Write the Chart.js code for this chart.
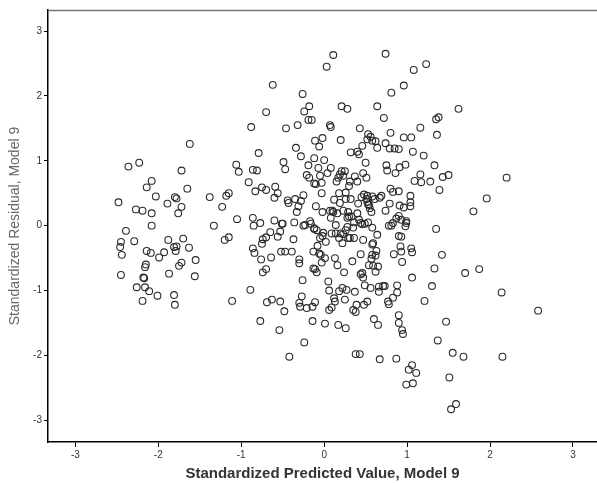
<!DOCTYPE html>
<html>
<head>
<meta charset="utf-8">
<script src="https://cdn.jsdelivr.net/npm/chart.js@4.4.1/dist/chart.umd.min.js"></script>
<style>
  html, body { margin: 0; padding: 0; background: #fff; overflow: hidden; }
  #wrap { position: relative; width: 597px; height: 483px; }
  #wrap canvas { display: block; }
</style>
</head>
<body>
<div id="wrap"><canvas id="residChart"></canvas></div>
<script>
// residuals vs predicted
const predicted = [
  -2.48, -2.36, -2.23, -2.27, -2.19, -2.14, -2.08, -2.08, -2.08, -2.03,
  -2.39, -2.45, -2.46, -2.44, -2.45, -2.29, -2.26, -2.19, -2.18, -2.17,
  -2.16, -2.15, -2.14, -2.16, -2.11, -2.09, -2.01, -1.99, -1.93, -1.89,
  -1.88, -1.87, -1.80, -1.78, -1.76, -1.72, -1.72, -1.81, -1.79, -1.78,
  -1.75, -1.72, -1.70, -1.81, -1.80, -1.65, -1.63, -1.62, -1.55, -1.56,
  -1.38, -1.33, -1.23, -1.20, -1.15, -1.18, -1.15, -1.11, -1.06, -1.03,
  -1.05, -0.91, -0.89, -0.88, -0.86, -0.86, -0.85, -0.86, -0.84, -0.83,
  -0.81, -0.79, -0.77, -0.77, -0.76, -0.75, -0.75, -0.74, -0.74, -0.70,
  -0.70, -0.70, -0.70, -0.69, -0.65, -0.64, -0.63, -0.62, -0.60, -0.60,
  -0.59, -0.56, -0.56, -0.54, -0.53, -0.53, -0.52, -0.51, -0.50, -0.49,
  -0.48, -0.47, -0.47, -0.46, -0.44, -0.43, -0.42, -0.39, -0.37, -0.36,
  -0.35, -0.34, -0.33, -0.32, -0.31, -0.30, -0.30, -0.30, -0.29, -0.28,
  -0.28, -0.27, -0.26, -0.26, -0.25, -0.25, -0.24, -0.24, -0.23, -0.21,
  -0.21, -0.19, -0.19, -0.18, -0.18, -0.17, -0.16, -0.15, -0.14, -0.14,
  -0.13, -0.13, -0.12, -0.12, -0.12, -0.12, -0.11, -0.11, -0.11, -0.10,
  -0.10, -0.09, -0.09, -0.08, -0.07, -0.06, -0.06, -0.05, -0.05, -0.04,
  -0.03, -0.03, -0.03, -0.02, -0.02, -0.02, -0.01, 0.00, 0.01, 0.01,
  0.02, 0.03, 0.04, 0.05, 0.06, 0.06, 0.07, 0.07, 0.08, 0.08,
  0.09, 0.09, 0.10, 0.11, 0.11, 0.12, 0.12, 0.13, 0.13, 0.14,
  0.14, 0.15, 0.16, 0.16, 0.17, 0.17, 0.18, 0.18, 0.18, 0.19,
  0.19, 0.20, 0.20, 0.21, 0.21, 0.22, 0.22, 0.23, 0.23, 0.23,
  0.24, 0.25, 0.25, 0.26, 0.26, 0.26, 0.26, 0.27, 0.28, 0.28,
  0.28, 0.29, 0.29, 0.30, 0.30, 0.31, 0.31, 0.32, 0.32, 0.33,
  0.34, 0.35, 0.35, 0.36, 0.36, 0.37, 0.37, 0.38, 0.38, 0.39,
  0.40, 0.40, 0.40, 0.41, 0.42, 0.42, 0.43, 0.43, 0.44, 0.44,
  0.44, 0.45, 0.46, 0.46, 0.46, 0.47, 0.47, 0.47, 0.48, 0.48,
  0.49, 0.49, 0.50, 0.51, 0.51, 0.52, 0.52, 0.52, 0.53, 0.53,
  0.53, 0.52, 0.54, 0.54, 0.55, 0.56, 0.56, 0.57, 0.57, 0.58,
  0.58, 0.58, 0.58, 0.58, 0.59, 0.59, 0.60, 0.61, 0.62, 0.62,
  0.62, 0.63, 0.64, 0.64, 0.64, 0.65, 0.65, 0.66, 0.66, 0.67,
  0.67, 0.69, 0.71, 0.72, 0.73, 0.74, 0.74, 0.74, 0.75, 0.76,
  0.77, 0.78, 0.78, 0.79, 0.79, 0.80, 0.80, 0.81, 0.81, 0.83,
  0.83, 0.83, 0.84, 0.85, 0.86, 0.87, 0.87, 0.88, 0.88, 0.90,
  0.90, 0.90, 0.90, 0.90, 0.90, 0.91, 0.91, 0.92, 0.93, 0.93,
  0.93, 0.94, 0.94, 0.95, 0.96, 0.96, 0.96, 0.98, 0.98, 0.99,
  0.99, 0.99, 1.02, 1.04, 1.04, 1.04, 1.05, 1.05, 1.06, 1.06,
  1.07, 1.07, 1.06, 1.08, 1.09, 1.11, 1.16, 1.16, 1.17, 1.20,
  1.21, 1.23, 1.28, 1.30, 1.33, 1.33, 1.35, 1.35, 1.36, 1.38,
  1.37, 1.39, 1.42, 1.43, 1.47, 1.50, 1.51, 1.53, 1.55, 1.59,
  1.62, 1.68, 1.70, 1.80, 1.87, 1.96, 2.14, 2.15, 2.20, 2.58,
  0.08
];
const residual = [
  0.36, 0.91, 0.97, 0.25, 0.23, 0.59, 0.69, 0.19, 0.00, 0.45,
  -0.08, -0.25, -0.33, -0.45, -0.76, -0.24, -0.95, -1.16, -0.80, -0.81,
  -0.64, -0.60, -0.39, -0.95, -1.01, -0.42, -1.08, -0.49, -0.41, 0.34,
  -0.22, -0.74, 0.44, 0.42, 0.19, 0.29, 0.85, -0.33, -0.39, -0.32,
  -0.62, -0.57, -0.20, -1.07, -1.22, 0.57, -0.34, 1.26, -0.53, -0.78,
  0.44, 0.00, 0.29, -0.22, -0.18, 0.46, 0.50, -1.16, 0.94, 0.83,
  0.10, 0.67, -0.99, 1.52, 0.86, 0.12, 0.00, -0.35, -0.42, 0.53,
  0.85, 1.12, 0.04, -1.47, -0.52, -0.28, 0.59, -0.72, -0.21, 1.75,
  0.55, -0.18, -0.67, -1.18, -0.10, -0.49, -1.14, 2.17, 0.08, 0.43,
  0.60, 0.50, -0.17, -1.61, -0.09, -1.17, -0.40, 0.03, 0.03, 0.98,
  -1.32, -0.40, 0.87, 1.50, 0.39, 0.35, -2.02, -0.40, -0.21, 0.05,
  0.41, 1.20, 0.21, 1.55, 0.30, -0.52, -0.58, -1.19, -1.25, 0.38,
  1.07, -1.09, 2.03, -0.84, 0.47, 0.00, -1.80, 1.76, 0.01, -1.27,
  0.78, 1.63, 0.93, 1.84, 0.74, 0.07, 0.03, 1.63, -1.25, -1.47,
  -0.40, -0.66, -0.04, 1.04, 0.65, -0.05, 1.31, -0.67, -1.18, 0.64,
  0.30, -0.07, -0.72, -0.31, 0.89, -0.43, 1.22, 0.77, -0.19, -0.45,
  0.50, -0.57, 0.66, 1.35, -0.16, 0.21, -0.11, 1.01, -1.51, -0.50,
  -0.25, 2.45, 0.81, -0.86, -1.30, -1.00, 0.23, 1.55, 0.89, 0.12,
  -0.12, -1.26, 0.23, 2.63, 0.21, 0.40, -1.12, -1.17, -0.50, 0.01,
  -0.12, 0.68, 0.19, -0.61, -1.53, 0.74, 0.50, -1.01, -0.19, 0.35,
  0.79, 1.32, -0.12, 1.84, 0.84, -0.96, -0.27, 0.77, -0.13, 0.23,
  -0.72, -1.14, 0.84, 0.51, 0.41, -1.58, -0.07, -0.99, 1.80, -0.02,
  0.12, -0.19, 0.21, 0.61, 0.14, 0.68, -0.19, 0.41, 1.13, 0.14,
  -0.55, -0.03, -1.30, -0.19, 0.05, -1.02, 0.76, -1.33, -1.98, -1.22,
  0.19, 1.14, 0.68, 0.34, 0.09, 1.10, -1.98, 1.50, -0.44, -0.75,
  0.04, 0.44, -0.73, 0.02, 1.23, 0.81, -0.22, -0.80, 0.48, -1.22,
  0.03, -0.92, 0.97, 0.74, 0.41, -1.17, 1.33, 0.46, 1.41, 0.33,
  0.05, 0.37, -0.61, 0.32, 0.27, -0.96, 1.37, 0.21, -0.51, -0.29,
  -0.03, 1.31, 0.45, -0.45, -0.27, -0.62, -1.44, 0.41, -0.71, -0.46,
  1.30, -0.39, 1.20, 1.84, -0.14, -0.63, -1.53, -1.02, -0.94, -2.06,
  0.43, 0.46, -0.93, 1.66, -0.93, 2.65, 0.23, 1.27, 0.93, 0.85,
  -1.17, -1.21, 0.00, 1.19, 0.34, 0.57, 1.43, 0.00, 2.05, 0.52,
  0.04, -1.11, -0.44, 1.19, 0.81, -2.05, 0.11, -1.03, -0.92, 1.18,
  0.53, 0.15, -0.16, -1.38, -1.50, 0.90, 0.31, -0.32, -0.40, -0.17,
  0.09, -0.56, -1.61, -1.67, 2.16, 1.36, 0.28, 0.94, -0.01, -2.45,
  0.07, 0.04, -2.22, 0.46, 0.36, 0.30, 1.36, -0.35, -0.41, -2.15,
  -2.43, 1.14, -0.80, 2.40, 0.69, -2.27, 1.51, 0.79, 0.67, 1.08,
  -1.16, 2.49, 0.68, -0.93, 0.93, -0.66, 1.64, -0.05, 1.40, 1.67,
  -1.77, 0.55, -0.45, 0.75, -1.48, 0.78, -2.34, -2.83, -1.96, -2.75,
  1.80, -2.02, -0.73, 0.22, -0.67, 0.42, -1.03, -2.02, 0.74, -1.31,
  1.52
];
const xTicks = [-3, -2, -1, 0, 1, 2, 3];
const yTicks = [-3, -2, -1, 0, 1, 2, 3];

const points = predicted.map((x, i) => ({ x: x, y: residual[i] }));

// gray line along the top of the plot frame
const topFrame = {
  id: 'topFrame',
  afterDraw(chart) {
    const a = chart.chartArea, c = chart.ctx;
    c.save();
    c.strokeStyle = '#777';
    c.lineWidth = 1.5;
    c.beginPath();
    c.moveTo(a.left, a.top + 0.5);
    c.lineTo(a.right, a.top + 0.5);
    c.stroke();
    c.restore();
  }
};

const tickFont = { family: 'Arial, "Liberation Sans", sans-serif', size: 10 };

new Chart(document.getElementById('residChart'), {
  type: 'scatter',
  data: {
    datasets: [{
      data: points,
      pointStyle: 'circle',
      pointRadius: 3.4,
      pointBorderWidth: 1.1,
      pointBorderColor: '#2a2a2a',
      pointBackgroundColor: 'rgba(0,0,0,0)'
    }]
  },
  options: {
    responsive: true,
    maintainAspectRatio: false,
    animation: false,
    layout: { autoPadding: false, padding: { top: 10, right: 0, left: 0, bottom: 0 } },
    plugins: { legend: { display: false }, tooltip: { enabled: false } },
    scales: {
      x: {
        type: 'linear',
        min: -3.33,
        max: 3.29,
        afterBuildTicks: s => { s.ticks = xTicks.map(v => ({ value: v })); },
        afterFit: s => { s.height = 41; s.paddingLeft = 0; s.paddingRight = 0; },
        grid: { drawOnChartArea: false, drawTicks: true, tickLength: 5, color: '#000', lineWidth: 1 },
        border: { display: true, color: '#000', width: 1.5 },
        ticks: { color: '#333', font: tickFont, padding: 2, maxRotation: 0 },
        title: {
          display: true,
          text: 'Standardized Predicted Value, Model 9',
          color: '#333',
          font: { family: 'Arial, "Liberation Sans", sans-serif', size: 15, weight: 'bold' },
          padding: { top: 5, bottom: 0 }
        }
      },
      y: {
        type: 'linear',
        min: -3.335,
        max: 3.324,
        afterBuildTicks: s => { s.ticks = yTicks.map(v => ({ value: v })); },
        afterFit: s => { s.width = 48; },
        grid: { drawOnChartArea: false, drawTicks: true, tickLength: 4, color: '#000', lineWidth: 1 },
        border: { display: true, color: '#000', width: 1.5 },
        ticks: { color: '#333', font: tickFont, padding: 2 },
        title: {
          display: true,
          text: 'Standardized Residual, Model 9',
          color: '#666',
          font: { family: 'Arial, "Liberation Sans", sans-serif', size: 14 },
          padding: { top: 7, bottom: 2 }
        }
      }
    }
  },
  plugins: [topFrame]
});
</script>
</body>
</html>
